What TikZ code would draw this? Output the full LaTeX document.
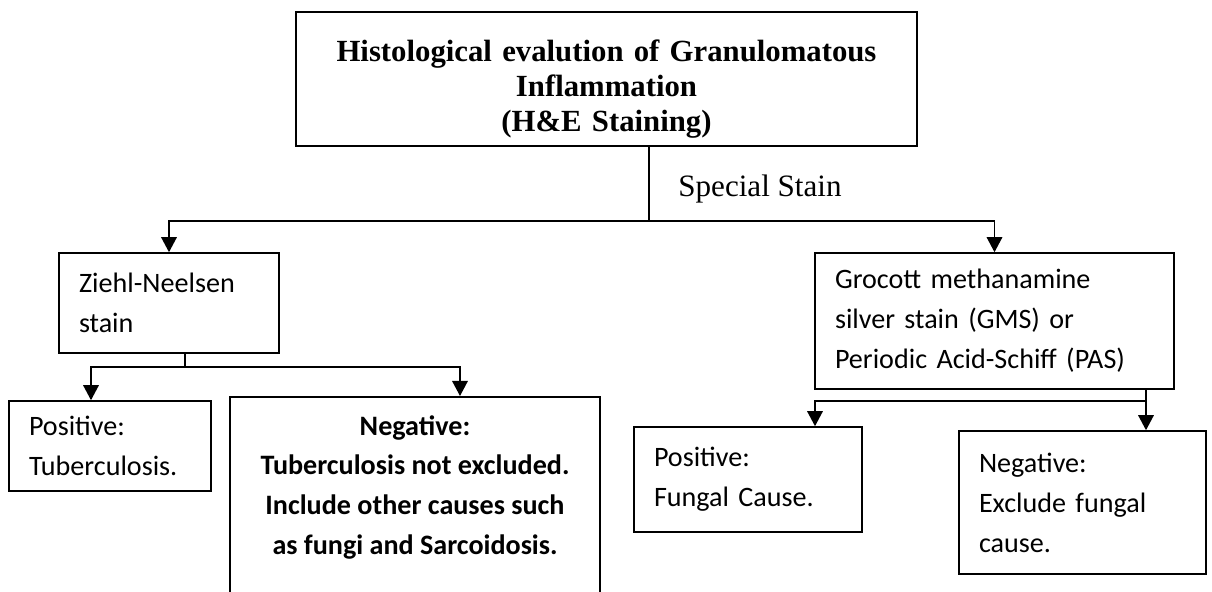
\documentclass[tikz,border=0pt]{standalone}
\usepackage{fontspec}
\setmainfont{Carlito}
\newfontfamily\timesfont{Liberation Serif}
\usetikzlibrary{arrows.meta,positioning}
\tikzset{
  block/.style={draw=black, fill=white, line width=0.9pt, inner xsep=0.4cm, inner ysep=0pt,
                align=left, font=\fontsize{16}{22.8}\selectfont},
  arrow/.style={-{Triangle[length=3mm,width=3.1mm]}, line width=0.9pt, draw=black},
  link/.style={line width=0.9pt, draw=black}
}
\begin{document}
\begin{tikzpicture}[x=1cm,y=1cm]
  \useasboundingbox (0,0) rectangle (24.24,11.84);
  \clip (0,0) rectangle (24.24,11.84);
  % title and first split
  \node[block, align=center, text width=11.62cm, minimum height=2.68cm,
        font=\timesfont\bfseries\fontsize{17.5}{20}\selectfont] (top) at (12.13,10.26)
    {\rule{0pt}{1.35em}Histological evalution of Granulomatous\\ Inflammation\\ (H\&E Staining)};
  \coordinate (split) at (12.98,7.42);
  \node[font=\timesfont\fontsize{17.7}{20}\selectfont, anchor=base west, inner sep=0pt]
    (special) at (13.56,7.90) {Special Stain};

  % stains
  \node[block, text width=3.6cm, minimum height=2.0cm] (zn) at (3.38,5.78)
    {Ziehl-Neelsen\\ stain};
  \node[block, text width=6.38cm, minimum height=2.72cm] (gms) at (19.89,5.42)
    {Grocott methanamine\\ silver stain (GMS) or\\ Periodic Acid-Schiff (PAS)};

  % results
  \node[block, text width=3.24cm, minimum height=1.8cm] (postb) at (2.20,2.92)
    {Positive:\\ Tuberculosis.};
  \node[block, minimum width=7.40cm, minimum height=4.16cm, anchor=north] (negtb) at (8.30,3.92) {};
  \node[font=\bfseries\fontsize{16}{22.6}\selectfont, align=center, inner sep=0pt,
        below=0.38cm of negtb.north] (negtbtext)
    {Negative:\\ Tuberculosis not excluded.\\ Include other causes such\\ as fungi and Sarcoidosis.};
  \node[block, text width=3.76cm, minimum height=2.1cm] (posfung) at (14.96,2.25)
    {Positive:\\ Fungal Cause.};
  \node[block, text width=4.14cm, minimum height=2.86cm] (negfung) at (21.65,1.79)
    {Negative:\\ Exclude fungal\\ cause.};

  % connectors
  \draw[link] (top.south -| split) -- (split);
  \draw[arrow] (split) -| (zn.north);
  \draw[arrow] (split) -| (gms.north);

  \coordinate (znfork) at (3.70,4.50);
  \draw[link] (zn.south -| znfork) -- (znfork);
  \draw[arrow] (znfork) -| ([xshift=-0.38cm]postb.north);
  \draw[arrow] (znfork) -| ([xshift=0.90cm]negtb.north);

  \coordinate (gmsfork) at (22.92,3.82);
  \draw[arrow] (gms.south -| gmsfork) -- (negfung.north -| gmsfork);
  \draw[arrow] (gmsfork) -| ([xshift=1.34cm]posfung.north);
\end{tikzpicture}
\end{document}
